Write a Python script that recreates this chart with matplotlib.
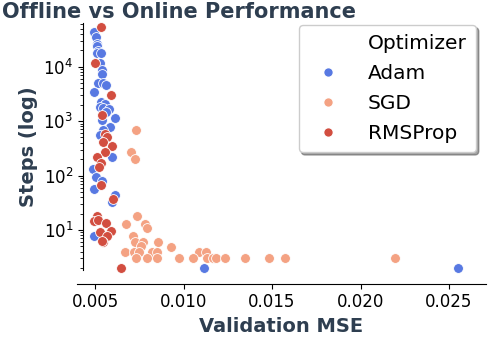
import numpy as np
import matplotlib
matplotlib.use("Agg")
import matplotlib.pyplot as plt
from matplotlib.lines import Line2D

# valeurs
adam_mse = [0.00494, 0.00506, 0.00513, 0.00510, 0.00519, 0.00513, 0.00532, 0.00528,
            0.00538, 0.00541, 0.00519, 0.00547, 0.00562, 0.00494, 0.00532, 0.00556,
            0.00528, 0.00547, 0.00581, 0.00562, 0.00611, 0.00538, 0.00585, 0.00547,
            0.00528, 0.00594, 0.00490, 0.00506, 0.00541, 0.00494, 0.00613, 0.00598,
            0.00496, 0.01118, 0.02553]
adam_steps = [42800, 34600, 26100, 24000, 19700, 17600, 17600, 11550,
              8700, 7350, 5080, 5080, 4560, 3480, 2280, 2070,
              1800, 1730, 1650, 1490, 1130, 1050, 793, 690,
              558, 223, 131, 92, 78, 56, 44, 33,
              7.9, 2, 2]

sgd_mse = [0.00730, 0.00702, 0.00726, 0.00739, 0.00677, 0.00781, 0.00792, 0.00715,
           0.00724, 0.00773, 0.00758, 0.00854, 0.00929, 0.00671, 0.00720, 0.00750,
           0.00820, 0.00849, 0.01089, 0.01127, 0.00730, 0.00795, 0.00852, 0.00976,
           0.01052, 0.01131, 0.01165, 0.01184, 0.01236, 0.01347, 0.01483, 0.01575,
           0.02195]
sgd_steps = [698, 268, 205, 17.7, 12.8, 12.8, 10.8, 7.8,
             5.9, 5.9, 5.0, 5.9, 4.9, 3.9, 3.9, 3.9,
             3.9, 3.9, 3.9, 3.9, 3, 3, 3, 3,
             3, 3, 3, 3, 3, 3, 3, 3,
             3]

rms_mse = [0.00532, 0.00502, 0.00589, 0.00538, 0.00556, 0.00566, 0.00544, 0.00594,
           0.00556, 0.00513, 0.00532, 0.00523, 0.00532, 0.00600, 0.00513, 0.00494,
           0.00519, 0.00560, 0.00528, 0.00589, 0.00569, 0.00547, 0.00538, 0.00647]
rms_steps = [54200, 11550, 3060, 1300, 582, 507, 421, 351,
             276, 223, 169, 146, 67, 37, 18.2, 14.8,
             15.4, 13.4, 9.1, 9.7, 7.9, 5.9, 6.3, 2]

optimizers = ["Adam", "SGD", "RMSProp"]
colors = ["#5879e2", "#f4a283", "#d24e40"]
txt_color = "#2e3e50"

fig = plt.figure(figsize=(5, 3.5), dpi=100)
ax = fig.add_axes([0.154, 0.229, 0.818, 0.705])

series = [(adam_mse, adam_steps), (sgd_mse, sgd_steps), (rms_mse, rms_steps)]
for (x, y), name, c in zip(series, optimizers, colors):
    ax.scatter(x, y, s=50, color=c, edgecolor="white", linewidth=0.6,
               label=name, clip_on=False, zorder=3)

ax.set_yscale("log")
ax.set_xlim(0.00398, 0.02709)
ax.set_ylim(1.85, 6.3e4)
ax.set_xticks([0.005, 0.010, 0.015, 0.020, 0.025])

ax.spines["top"].set_visible(False)
ax.spines["right"].set_visible(False)
ax.spines["bottom"].set_position(("outward", 10))
ax.spines["left"].set_position(("axes", 6 / 409))
ax.tick_params(labelsize=12)

ax.set_xlabel("Validation MSE", fontsize=14, fontweight="bold", color=txt_color)
ax.set_ylabel("Steps (log)", fontsize=14, fontweight="bold", color=txt_color)
fig.text(0.003, 0.995, "Offline vs Online Performance", fontsize=15,
         fontweight="bold", color=txt_color, ha="left", va="top")

handles = [Line2D([], [], linestyle="none", marker="")]
for name, c in zip(optimizers, colors):
    handles.append(Line2D([], [], linestyle="none", marker="o", markersize=7,
                          markerfacecolor=c, markeredgecolor="white"))
ax.legend(handles, ["Optimizer"] + optimizers, loc="upper right", fontsize=14.5,
          fancybox=True, shadow=True, borderaxespad=0, handletextpad=1.0,
          labelspacing=0.55, borderpad=0.45,
          bbox_to_anchor=(0.952, 0.929), bbox_transform=fig.transFigure)

fig.savefig("out.png", dpi=100)
